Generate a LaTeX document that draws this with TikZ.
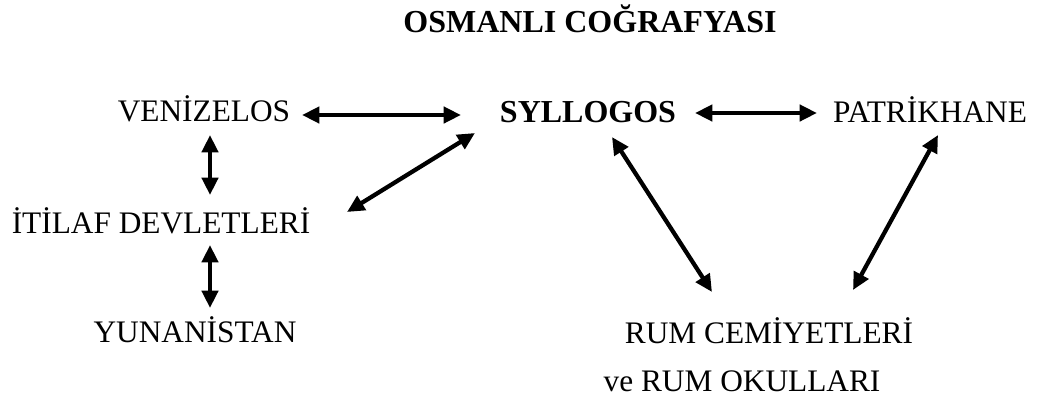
\documentclass[tikz,border=0pt]{standalone}
\usepackage{fontspec}
\setmainfont{Liberation Serif}
\usetikzlibrary{arrows.meta, positioning}
\tikzset{
    lbl/.style={anchor=base, inner sep=0pt, font=\fontspec{Liberation Serif}\fontsize{23.5}{28}\selectfont},
    bold lbl/.style={lbl, font=\fontspec{Liberation Serif}\fontsize{24}{29}\selectfont\bfseries},
    twoway/.style={line width=3.2pt, {Triangle[length=13pt,width=12pt]}-{Triangle[length=13pt,width=12pt]}}
}

\begin{document}
\begin{tikzpicture}[x=0.75pt, y=-0.75pt]
    \useasboundingbox (0,0) rectangle (1038,408);
    \node[bold lbl] (title) at (590,32) {OSMANLI COĞRAFYASI};
    \node[lbl] (ven) at (204,121) {VENİZELOS};
    \node[bold lbl] (syl) at (588,122) {SYLLOGOS};
    \node[lbl] (pat) at (930,122) {PATRİKHANE};
    \node[lbl] (iti) at (161,233) {İTİLAF DEVLETLERİ};
    \node[lbl] (yun) at (195,342) {YUNANİSTAN};
    \node[lbl] (rum) at (769,343) {RUM CEMİYETLERİ};
    \node[lbl] (oku) at (742,391) {ve RUM OKULLARI};
    % arrow ends
    \coordinate (ven e) at (302,115);
    \coordinate (syl w) at (461,115);
    \coordinate (syl e) at (695,113);
    \coordinate (pat w) at (817,113);
    \coordinate (ven s) at (210,135);
    \coordinate (iti n) at (210,195);
    \coordinate (iti s) at (210,245);
    \coordinate (yun n) at (210,308);
    \coordinate (syl sw) at (475,133);
    \coordinate (iti ne) at (347,212);
    \coordinate (syl s) at (612,137);
    \coordinate (rum nw) at (712,292);
    \coordinate (pat s) at (938,135);
    \coordinate (rum ne) at (853,290);
    \draw[twoway] (ven e) -- (syl w);
    \draw[twoway] (syl e) -- (pat w);
    \draw[twoway] (ven s) -- (iti n);
    \draw[twoway] (iti s) -- (yun n);
    \draw[twoway] (syl sw) -- (iti ne);
    \draw[twoway] (syl s) -- (rum nw);
    \draw[twoway] (pat s) -- (rum ne);
\end{tikzpicture}
\end{document}
